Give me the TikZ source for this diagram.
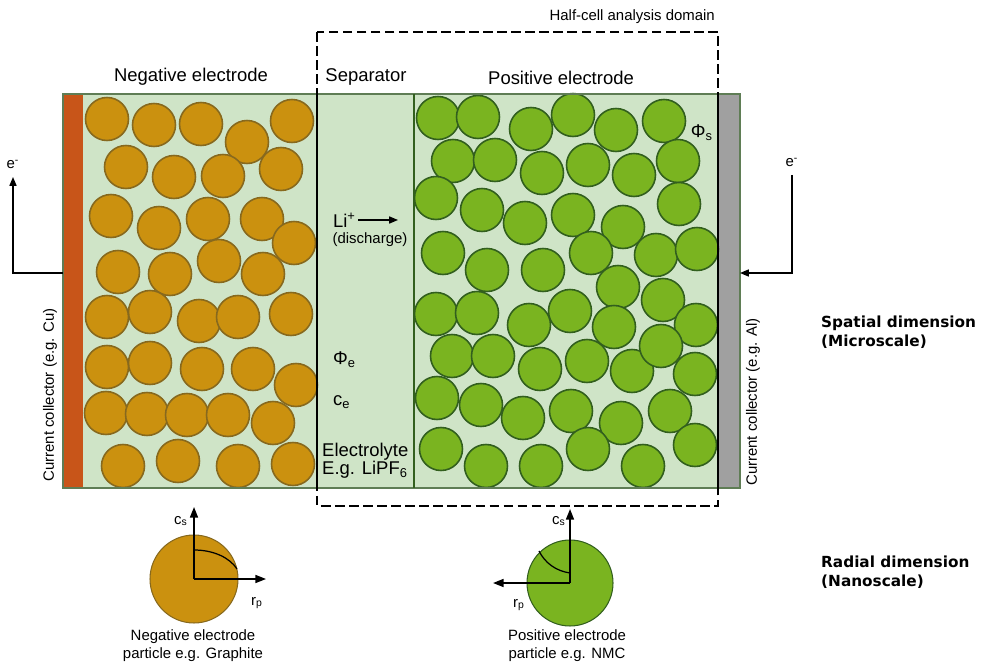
\documentclass[tikz,border=0pt]{standalone}
\usepackage{fontspec}
\setmainfont{Liberation Sans}
\newfontfamily\etichetta{DejaVu Sans}
\usetikzlibrary{arrows.meta}

\definecolor{elettrolita}{RGB}{207,228,199}
\definecolor{grafite}{RGB}{203,145,15}
\definecolor{grafitebordo}{RGB}{135,105,30}
\definecolor{nmc}{RGB}{122,180,32}
\definecolor{nmcbordo}{RGB}{50,95,30}
\definecolor{rame}{RGB}{200,85,25}
\definecolor{alluminio}{RGB}{160,160,160}
\definecolor{cornice}{RGB}{95,125,85}

\begin{document}
\begin{tikzpicture}[
    x=0.02cm, y=-0.02cm,
    font=\fontsize{10.5}{12}\selectfont,
    piccolo/.style={font=\fontsize{8.5}{10.2}\selectfont},
    grande/.style={font=\etichetta\bfseries\fontsize{8.7}{10.8}\selectfont,align=left,anchor=west},
    partneg/.style={fill=grafite,draw=grafitebordo,line width=0.9pt},
    partpos/.style={fill=nmc,draw=nmcbordo,line width=0.9pt},
    freccia/.style={line width=0.7pt,-{Triangle[length=5pt,width=4pt]}},
    asse/.style={line width=0.9pt,-{Triangle[length=6pt,width=4.5pt]}},
    dominio/.style={line width=0.9pt,dash pattern=on 5.5pt off 2.5pt}]

  \useasboundingbox (0,0) rectangle (983,668);

  % cella: elettrolita e collettori
  \fill[elettrolita] (83,94) rectangle (718,488);
  \fill[rame]        (63,94) rectangle (83,488);    % collettore Cu
  \fill[alluminio]   (718,94) rectangle (740,488);  % collettore Al

  % particelle dell'elettrodo negativo
  \foreach \x/\y in {107/119,154/125,201/124,247/142,292/121,
                     126/167,174/177,223/176,281/169,
                     111/216,159/228,208/219,262/219,294/243,
                     118/272,170/274,219/261,263/274,
                     107/317,150/312,199/321,238/317,291/314,
                     107/367,150/363,202/369,253/369,296/385,
                     106/413,147/414,187/415,228/415,273/423,
                     123/466,178/461,238/466,293/464}
    \draw[partneg] (\x,\y) circle (0.43cm);

  % particelle dell'elettrodo positivo
  \foreach \x/\y in {438/118,478/117,531/129,573/115,616/130,664/121,
                     453/161,495/160,542/173,588/165,634/175,678/161,
                     436/198,482/210,525/223,573/215,623/227,679/204,
                     443/253,487/270,543/270,591/253,656/255,697/249,
                     618/287,663/300,
                     436/314,477/313,529/325,570/311,614/327,696/325,
                     452/356,493/356,540/369,587/361,632/371,661/346,695/374,
                     437/398,481/405,523/418,571/411,621/423,670/411,
                     441/449,486/466,541/466,588/449,643/466,695/445}
    \draw[partpos] (\x,\y) circle (0.43cm);

  \draw[cornice,line width=0.6pt] (63,94) rectangle (740,488);
  \draw[nmcbordo,line width=1pt]  (414,94) -- (414,488);   % bordo separatore
  \draw[line width=0.6pt] (317,94) -- (317,488);
  \draw[line width=0.6pt] (718,94) -- (718,488);
  \draw[dominio] (317,32) rectangle (718,506);

  % testi in alto
  \node[piccolo,anchor=east] (tdom) at (721,17) {Half-cell analysis domain};
  \node (tneg) at (191,77) {Negative electrode};
  \node (tsep) at (366,77) {Separator};
  \node (tpos) at (561,78) {Positive electrode};

  % collettori
  \node[piccolo,rotate=90] (tcu) at (50,395) {Current collector (e.g. Cu)};
  \node[piccolo,rotate=90] (tal) at (753,402) {Current collector (e.g. Al)};

  % elettroni
  \node[piccolo,anchor=south,inner sep=4.5pt] (esx) at (13,177) {e\textsuperscript{-}};
  \node[piccolo,anchor=south,inner sep=4.5pt] (edx) at (792,175) {e\textsuperscript{-}};
  \coordinate (cusx) at (63,273);
  \coordinate (aldx) at (740,273);
  \draw[freccia] (cusx) -| (esx.south);
  \draw[freccia] (edx.south) |- (aldx);

  % separatore
  \node[anchor=west,inner sep=1pt] (li) at (331,220) {Li\textsuperscript{+}};
  \coordinate (lifine) at (398,220);
  \draw[freccia] (li) -- (lifine);
  \node[piccolo] (scarica) at (370,240) {(discharge)};
  \node[anchor=west] (phie) at (327,360) {Φ\textsubscript{e}};
  \node[anchor=west] (ce) at (327,402) {c\textsubscript{e}};
  \node[anchor=west,align=left,font=\fontsize{10.5}{10.3}\selectfont] (elet) at (316,461)
    {Electrolyte\\E.g. LiPF\textsubscript{6}};
  \node (phis) at (702,133) {Φ\textsubscript{s}};

  % scale
  \node[grande] (spaz) at (815,332) {Spatial dimension\\(Microscale)};
  \node[grande] (rad)  at (815,572) {Radial dimension\\(Nanoscale)};

  % particella negativa
  \coordinate (cn) at (194,579);
  \coordinate (cnsu) at (194,507);
  \coordinate (cndx) at (266,579);
  \draw[partneg,line width=0.6pt] (cn) circle (0.88cm);
  \draw[line width=0.7pt] (194,550) .. controls (214,550) and (230,558) .. (237,569);
  \draw[asse] (cn) -- (cnsu);
  \draw[asse] (cn) -- (cndx);
  \node[piccolo] (csn) at (181,521) {c\textsubscript{s}};
  \node[piccolo] (rpn) at (257,603) {r\textsubscript{p}};
  \node[piccolo,align=center] (tpn) at (193,646) {Negative electrode\\particle e.g. Graphite};

  % particella positiva
  \coordinate (cp) at (570,583);
  \coordinate (cpsu) at (570,509);
  \coordinate (cpsx) at (493,583);
  \draw[partpos,line width=0.6pt] (cp) circle (0.86cm);
  \draw[line width=0.7pt] (539,551) .. controls (545,563) and (556,571) .. (570,573);
  \draw[asse] (cp) -- (cpsu);
  \draw[asse] (cp) -- (cpsx);
  \node[piccolo] (csp) at (559,521) {c\textsubscript{s}};
  \node[piccolo] (rpp) at (519,605) {r\textsubscript{p}};
  \node[piccolo,align=center] (tpp) at (567,646) {Positive electrode\\particle e.g. NMC};

\end{tikzpicture}
\end{document}
